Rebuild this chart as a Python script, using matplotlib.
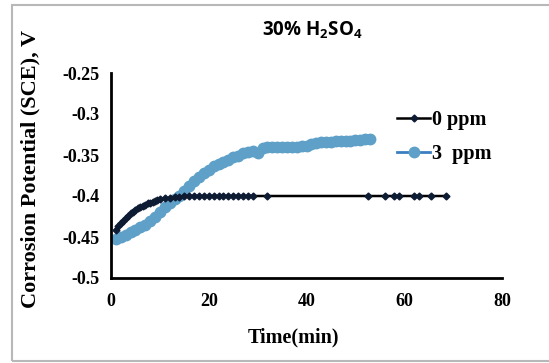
import matplotlib
matplotlib.use("Agg")
import matplotlib.pyplot as plt
from matplotlib.patches import Rectangle

# 0 ppm: time (min) and potential (V vs SCE)
t_0ppm = [1, 1.5, 2, 2.5, 3, 3.5, 4, 4.5, 5, 5.5, 6, 6.5, 7, 7.5, 8, 8.5, 9, 9.5, 10,
          11, 12, 13, 14, 15, 16, 17, 18, 19, 20,
          21, 22, 23, 24, 25, 26, 27, 28, 29, 32, 52.5, 56, 58, 59, 62, 63, 65.5, 68.5]
v_0ppm = [-0.442, -0.437, -0.433, -0.430, -0.427, -0.424, -0.421, -0.419, -0.417, -0.415,
          -0.414, -0.412, -0.411, -0.409, -0.408, -0.407, -0.406, -0.405, -0.404,
          -0.403, -0.402, -0.401, -0.401, -0.400, -0.400, -0.400, -0.400, -0.400, -0.400,
          -0.400, -0.400, -0.400, -0.400, -0.400, -0.400, -0.400, -0.400, -0.400, -0.400,
          -0.400, -0.400, -0.400, -0.400, -0.400, -0.400, -0.400, -0.400]

# 3 ppm
t_3ppm = [1, 2, 3, 4, 5, 6, 7, 8, 9, 10, 11, 12, 13, 14, 15, 16, 17, 18, 19, 20,
          21, 22, 23, 24, 25, 26, 27, 28, 29, 30, 31, 32, 33, 34, 35, 36, 37, 38, 39, 40,
          41, 42, 43, 44, 45, 46, 47, 48, 49, 50, 51, 52, 53]
v_3ppm = [-0.452, -0.450, -0.447, -0.444, -0.441, -0.438, -0.435, -0.430, -0.425, -0.420,
          -0.414, -0.409, -0.404, -0.400, -0.394, -0.388, -0.382, -0.377, -0.372, -0.368,
          -0.364, -0.361, -0.358, -0.356, -0.353, -0.351, -0.348, -0.346, -0.345, -0.347,
          -0.342, -0.340, -0.340, -0.340, -0.340, -0.340, -0.340, -0.340, -0.339, -0.339,
          -0.337, -0.335, -0.334, -0.334, -0.334, -0.333, -0.333, -0.333, -0.333, -0.332,
          -0.332, -0.331, -0.331]

x_ticks = [0, 20, 40, 60, 80]
y_ticks = [-0.5, -0.45, -0.4, -0.35, -0.3, -0.25]
y_tick_labels = ["-0.5", "-0.45", "-0.4", "-0.35", "-0.3", "-0.25"]

plt.rcParams['mathtext.fontset'] = 'custom'
plt.rcParams['mathtext.rm'] = 'Open Sans:bold'
plt.rcParams['mathtext.default'] = 'rm'

serif = "Liberation Serif"

fig = plt.figure(figsize=(5.49, 3.63), dpi=100)
ax = fig.add_axes([111 / 549, 1 - 278 / 363, (502 - 111) / 549, (278 - 73) / 363])

ax.plot(t_3ppm, v_3ppm, '-o', color='#3c7fc0', lw=2, markersize=7.5,
        markerfacecolor='#5ea0c8', markeredgecolor='#5ea0c8', label='3  ppm', zorder=2)
ax.plot(t_0ppm, v_0ppm, '-D', color='black', lw=1.8, markersize=3.5,
        markerfacecolor='#0d1b33', markeredgecolor='#0d1b33', label='0 ppm', zorder=3)

ax.set_xlim(0, 80)
ax.set_ylim(-0.5, -0.25)
ax.set_xticks(x_ticks)
ax.set_yticks(y_ticks)
ax.set_yticklabels(y_tick_labels)
for sp in ['top', 'right']:
    ax.spines[sp].set_visible(False)
for sp in ['left', 'bottom']:
    ax.spines[sp].set_linewidth(2)
    ax.spines[sp].set_color('black')
ax.tick_params(axis='x', length=0, pad=10.5)
ax.tick_params(axis='y', length=0, pad=8)
for lbl in ax.get_xticklabels() + ax.get_yticklabels():
    lbl.set_fontfamily(serif)
    lbl.set_fontweight('bold')
    lbl.set_fontsize(13)

handles, labels = ax.get_legend_handles_labels()
leg = ax.legend(handles[::-1], labels[::-1], loc='upper left',
                bbox_to_anchor=(397 / 549, 1 - 110 / 363), bbox_transform=fig.transFigure,
                frameon=False, borderpad=0, borderaxespad=0, handlelength=1.65,
                handletextpad=0.1, labelspacing=0.7,
                prop={'family': serif, 'weight': 'bold', 'size': 14.5})

fig.text(312 / 549, 1 - 30 / 363, "30% H$_2$SO$_4$", ha='center', va='center',
         fontfamily='Open Sans', fontweight='bold', fontsize=13.5)
fig.text(30 / 549, 1 - 169 / 363, "Corrosion Potential (SCE), V", rotation=90,
         ha='center', va='center', fontfamily=serif, fontweight='bold', fontsize=16)
fig.text(293 / 549, 1 - 337 / 363, "Time(min)", ha='center', va='center',
         fontfamily=serif, fontweight='bold', fontsize=14.5)

fig.patches.append(Rectangle((12 / 549, 2 / 363), 1.1, 1 - 7 / 363, transform=fig.transFigure,
                             fill=False, edgecolor='#b8b8b8', lw=1.5))

fig.savefig("out.png", dpi=100)
